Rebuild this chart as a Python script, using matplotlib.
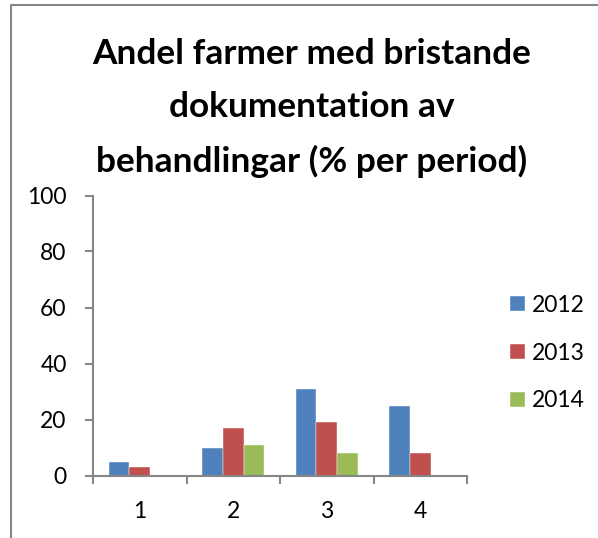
import matplotlib
matplotlib.use("Agg")
import matplotlib.pyplot as plt
from matplotlib.lines import Line2D
import numpy as np

# ── Data ─────────────────────────────────────────────────────────────────────
periods = ["1", "2", "3", "4"]
years = ["2012", "2013", "2014"]
v2012 = [5, 10, 31, 25]
v2013 = [3, 17, 19, 8]
v2014 = [0, 11, 8, 0]
colors = ["#4F81BD", "#C0504D", "#9BBB59"]

plt.rcParams["font.family"] = ["Lato", "DejaVu Sans"]

fig = plt.figure(figsize=(5.98, 5.38), dpi=100)
ax = fig.add_axes([93 / 598, 62.5 / 538, 374 / 598, 280 / 538])

x = np.arange(1, len(periods) + 1)
w = 0.221
for i, (vals, lab) in enumerate(zip([v2012, v2013, v2014], years)):
    ax.bar(x + (i - 1) * w, vals, width=w, color=colors[i], label=lab,
           edgecolor="white", linewidth=0.3)

ax.set_xlim(0.5, 4.5)
ax.set_ylim(0, 100)
ax.set_yticks(range(0, 101, 20))
ax.set_xticks(x)
ax.set_xticklabels(periods)
ax.set_xticks(np.arange(0.5, 4.6, 1), minor=True)

for s in ["top", "right"]:
    ax.spines[s].set_visible(False)
for s in ["left", "bottom"]:
    ax.spines[s].set_color("#868686")
    ax.spines[s].set_linewidth(1.5)

ax.tick_params(axis="y", which="major", direction="out", length=6, width=1.5,
               color="#868686", labelsize=16.5, pad=13)
ax.tick_params(axis="x", which="major", length=0, labelsize=16.5, pad=18)
ax.tick_params(axis="x", which="minor", direction="out", length=6, width=1.5,
               color="#868686")

ax.legend(loc="center left", bbox_to_anchor=(1.115, 0.4375), frameon=False,
          fontsize=16.5, handlelength=0.65, handleheight=0.65, handletextpad=0.3,
          labelspacing=1.17, borderaxespad=0, borderpad=0)

fig.text(0.521, 1 - 108 / 538,
         "Andel farmer med bristande\ndokumentation av\nbehandlingar (% per period)",
         ha="center", va="center", fontsize=25.4, fontweight="bold",
         linespacing=1.8)

# outer chart border (left and top only visible)
fig.add_artist(Line2D([11 / 598, 11 / 598, 597 / 598],
                      [0, 1 - 5 / 538, 1 - 5 / 538],
                      transform=fig.transFigure, color="#868686", linewidth=1.5))

fig.savefig("out.png", dpi=100)
